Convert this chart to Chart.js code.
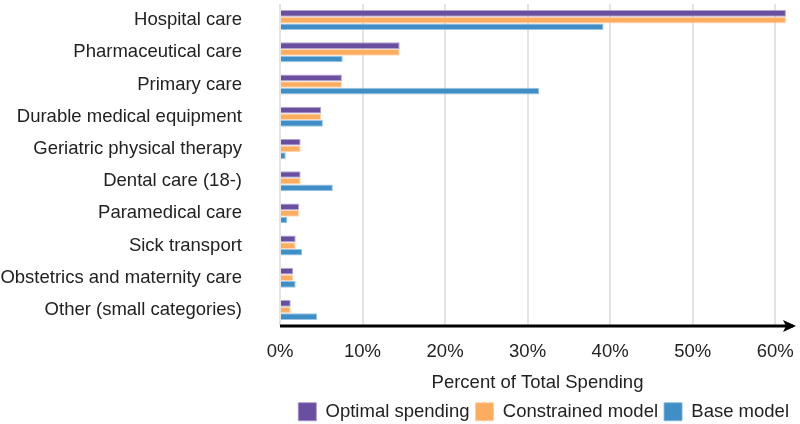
<!DOCTYPE html>
<html>
<head>
<meta charset="utf-8">
<script src="https://cdn.jsdelivr.net/npm/chart.js@4.4.1/dist/chart.umd.min.js"></script>
<style>
  html, body { margin: 0; padding: 0; background: #fff; }
  #wrap { width: 800px; height: 424px; position: relative; }
</style>
</head>
<body>
<div id="wrap"><canvas id="spendingChart"></canvas></div>
<script>
// Data
const categories = [
  'Hospital care',
  'Pharmaceutical care',
  'Primary care',
  'Durable medical equipment',
  'Geriatric physical therapy',
  'Dental care (18-)',
  'Paramedical care',
  'Sick transport',
  'Obstetrics and maternity care',
  'Other (small categories)'
];
const optimalSpending = [61.3, 14.5, 7.5, 5.0, 2.5, 2.5, 2.3, 1.9, 1.6, 1.3];
const constrainedModel = [61.3, 14.5, 7.5, 5.0, 2.5, 2.5, 2.3, 1.9, 1.6, 1.3];
const baseModel = [39.2, 7.6, 31.4, 5.2, 0.7, 6.4, 0.9, 2.7, 1.9, 4.5];
const tickValues = [0, 10, 20, 30, 40, 50, 60];
const seriesNames = ['Optimal spending', 'Constrained model', 'Base model'];

const fontFamily = '"Liberation Sans", Arial, Helvetica, sans-serif';
const textColor = '#222';

// arrowhead at the end of the x axis
const axisArrow = {
  id: 'axisArrow',
  afterDraw(chart) {
    const { ctx, chartArea } = chart;
    const y = chartArea.bottom;
    const x = chartArea.right;
    ctx.save();
    ctx.strokeStyle = '#000';
    ctx.fillStyle = '#000';
    ctx.lineWidth = 3;
    ctx.beginPath();
    ctx.moveTo(chartArea.left, y);
    ctx.lineTo(x - 2, y);
    ctx.stroke();
    ctx.beginPath();
    ctx.moveTo(x + 1, y);
    ctx.lineTo(x - 12, y - 6);
    ctx.lineTo(x - 9, y);
    ctx.lineTo(x - 12, y + 6);
    ctx.closePath();
    ctx.fill();
    ctx.restore();
  }
};

const bar = (label, data, color, border) => ({
  label,
  data,
  backgroundColor: color,
  borderColor: border,
  borderWidth: 1,
  barPercentage: 1,
  categoryPercentage: 0.62
});

new Chart(document.getElementById('spendingChart'), {
  type: 'bar',
  data: {
    labels: categories,
    datasets: [
      bar(seriesNames[0], optimalSpending, '#6a4fa1', 'rgba(160,140,200,0.8)'),
      bar(seriesNames[1], constrainedModel, '#fdad60', 'rgba(255,205,160,0.8)'),
      bar(seriesNames[2], baseModel, '#3f8fc6', 'rgba(130,180,220,0.8)')
    ]
  },
  options: {
    indexAxis: 'y',
    responsive: true,
    maintainAspectRatio: false,
    animation: false,
    layout: { padding: { top: 4, right: 5, left: 0, bottom: -7 } },
    scales: {
      x: {
        min: 0,
        max: 62.4,
        afterBuildTicks: (axis) => {
          axis.ticks = tickValues.map(v => ({ value: v }));
        },
        afterFit: (axis) => {
          axis.paddingLeft = 0;
          axis.paddingRight = 0;
          axis.height -= 8;
        },
        grid: { color: '#e3e3e3', lineWidth: 2, drawTicks: false },
        border: { display: false },
        ticks: {
          padding: 15,
          color: textColor,
          font: { family: fontFamily, size: 18.5 },
          maxRotation: 0,
          callback: (v) => v + '%'
        },
        title: {
          display: true,
          text: 'Percent of Total Spending',
          color: textColor,
          font: { family: fontFamily, size: 18.5 },
          padding: { top: 2, bottom: 2 }
        }
      },
      y: {
        grid: { display: false, drawTicks: false },
        border: { display: false },
        ticks: {
          padding: 38,
          color: textColor,
          font: { family: fontFamily, size: 18.5 }
        },
        // labels end at 242px, bars start at 280px
        afterFit: (axis) => {
          axis.width = 280;
          axis.paddingTop = 0;
          axis.paddingBottom = 0;
        }
      }
    },
    plugins: {
      legend: {
        position: 'bottom',
        align: 'end',
        labels: {
          boxWidth: 18,
          boxHeight: 18,
          padding: 6,
          color: textColor,
          font: { family: fontFamily, size: 18.5 }
        }
      },
      tooltip: { enabled: false }
    }
  },
  plugins: [axisArrow]
});
</script>
</body>
</html>
